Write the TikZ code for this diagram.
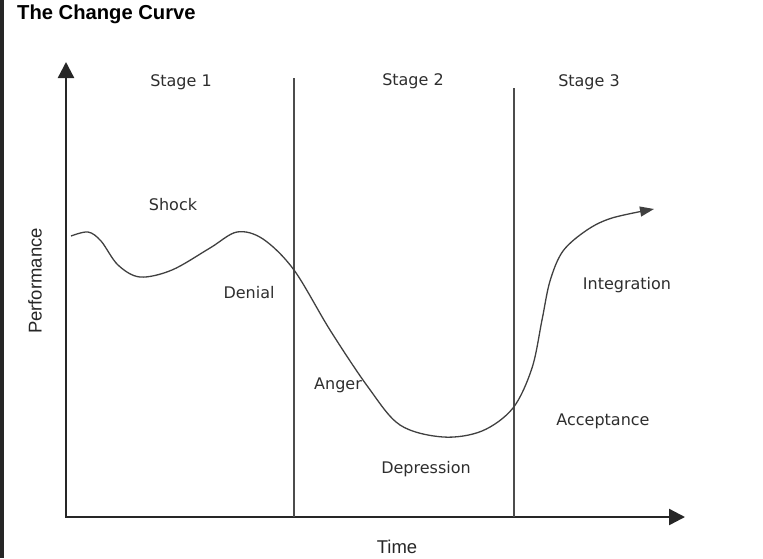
\documentclass[tikz,border=0pt]{standalone}
\usepackage{fontspec}
\setmainfont{DejaVu Sans}
\newfontfamily\arialfont{Liberation Sans}
\usepackage{xcolor}
\usepackage{tikz}
\usetikzlibrary{arrows.meta}

\begin{document}
\begin{tikzpicture}[x=1pt,y=-1pt,
    lbl/.style={text=black!82, font=\fontsize{16}{19}\selectfont, inner sep=0pt},
    axislbl/.style={text=black!85, font=\arialfont\fontsize{18.5}{21}\selectfont, inner sep=0pt},
    axis/.style={line width=2.4pt, black!85, {Triangle[length=16pt,width=16pt]}-{Triangle[length=16pt,width=16pt]}},
    divider/.style={line width=1.1pt, black!70}]
                \useasboundingbox (0,0) rectangle (763,558);
                \fill[black!85] (0,0) rectangle (4,558);
                % Title
                \node[anchor=west, inner sep=0pt, font=\arialfont\bfseries\fontsize{20.2}{23}\selectfont] (title) at (17,14) {The Change Curve};
                % Axes
                \coordinate (ytop) at (66,62);
                \coordinate (origin) at (66,517);
                \coordinate (xend) at (685,517);
                \draw[axis] (ytop) -- (origin) -- (xend);
                \node[axislbl, rotate=90] (perf) at (35,281) {Performance};
                \node[axislbl] (time) at (397,547) {Time};
                % Stage dividers
                \coordinate (d1top) at (294,78);
                \coordinate (d1bot) at (294,517);
                \coordinate (d2top) at (514,88);
                \coordinate (d2bot) at (514,517);
                \draw[divider] (d1top) -- (d1bot);
                \draw[divider] (d2top) -- (d2bot);
                \node[lbl] (stage1) at (181,82) {Stage 1};
                \node[lbl] (stage2) at (413,81) {Stage 2};
                \node[lbl] (stage3) at (589,82) {Stage 3};
                % Phases
                \node[lbl] (shock) at (173,205) {Shock};
                \node[lbl] (denial) at (249,293) {Denial};
                \node[lbl] (anger) at (338,385) {Anger};
                \node[lbl] (depression) at (426,469) {Depression};
                \node[lbl] (acceptance) at (603,421) {Acceptance};
                \node[lbl] (integration) at (627,285) {Integration};
                % The curve
                \draw[line width=1.3pt, black!75, -{Triangle[length=14pt,width=10pt]}]
                    plot[smooth, tension=0.55] coordinates {(71,236) (88,232) (101,241) (118,265) (140,277) (172,270) (210,248) (237,232) (263,239) (294,270) (330,330) (368,387) (400,425) (443,437) (482,431) (513,408) (532,368) (542,320) (550,281) (563,251) (587,230) (612,218) (654,209)};
            \end{tikzpicture}
\end{document}
